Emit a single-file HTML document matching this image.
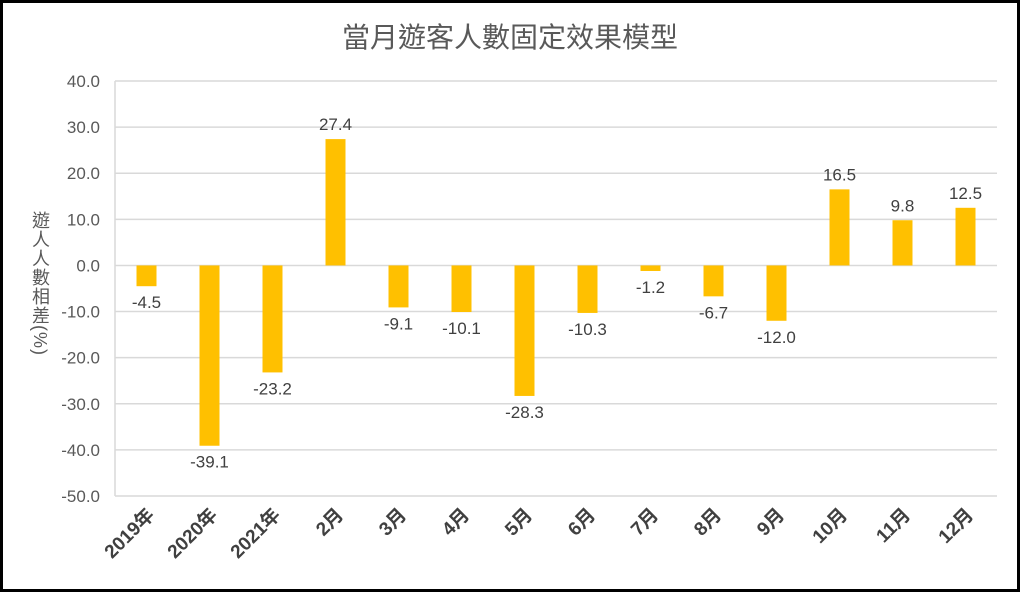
<!DOCTYPE html>
<html><head><meta charset="utf-8"><style>
body{margin:0;background:#fff;}
#wrap{position:relative;width:1020px;height:592px;box-sizing:border-box;border:3px solid #000;background:#fff;overflow:hidden;}
svg{position:absolute;left:-3px;top:-3px;}
#ytitle{position:absolute;left:24px;top:208px;writing-mode:vertical-rl;font:18px "Liberation Sans","Noto Sans CJK TC",sans-serif;color:#595959;letter-spacing:1px;}
</style></head><body>
<div id="wrap">
<svg id="chart" width="1020" height="592"></svg>
<div id="ytitle">遊人人數相差(%)</div>
</div>
<script>
const categories=["2019年","2020年","2021年","2月","3月","4月","5月","6月","7月","8月","9月","10月","11月","12月"];
const values=[-4.5,-39.1,-23.2,27.4,-9.1,-10.1,-28.3,-10.3,-1.2,-6.7,-12.0,16.5,9.8,12.5];
const yTicks=[40,30,20,10,0,-10,-20,-30,-40,-50];
const NS="http://www.w3.org/2000/svg";
const svg=document.getElementById('chart');
const L=115,R=997,T=81,B=496,yMax=40,yMin=-50;
const y=v=>T+(yMax-v)/(yMax-yMin)*(B-T);
const bw=(R-L)/categories.length;
const x=i=>L+bw*(i+0.5);
function mk(t,a,txt){const e=document.createElementNS(NS,t);for(const k in a)e.setAttribute(k,a[k]);if(txt!==undefined)e.textContent=txt;svg.appendChild(e);return e;}
const title=mk('text',{x:510,y:47,'text-anchor':'middle','font-size':28,fill:'#595959','font-family':'"Liberation Sans","Noto Sans CJK TC",sans-serif'},'當月遊客人數固定效果模型');


yTicks.forEach(v=>{
  const g=mk('line',{x1:L,x2:R,y1:y(v),y2:y(v),stroke:'#d9d9d9','stroke-width':1.5});
  
  
  const t=mk('text',{x:100,y:y(v)+6,'text-anchor':'end','font-size':17,fill:'#595959','font-family':'"Liberation Sans",sans-serif'},v.toFixed(1));
  
  
});
const ax=mk('line',{x1:L,x2:L,y1:T,y2:B,stroke:'#d9d9d9','stroke-width':1.5});


values.forEach((v,i)=>{
  const y0=y(0),y1=y(v);
  const r=mk('rect',{x:x(i)-10,y:Math.min(y0,y1),width:20,height:Math.abs(y1-y0),fill:'#FFC000'});
  
  
  const ly=v>=0?y1-9:y1+22;
  const t=mk('text',{x:x(i),y:ly,'text-anchor':'middle','font-size':17,fill:'#404040','font-family':'"Liberation Sans",sans-serif'},v.toFixed(1));
  
  
  const c=mk('text',{x:x(i)+9,y:516,'text-anchor':'end','font-size':19,'font-weight':'bold',fill:'#404040','font-family':'"Liberation Sans","Noto Sans CJK TC",sans-serif',transform:`rotate(-45 ${x(i)+9} 516)`},categories[i]);
  
  
});
</script>
</body></html>
